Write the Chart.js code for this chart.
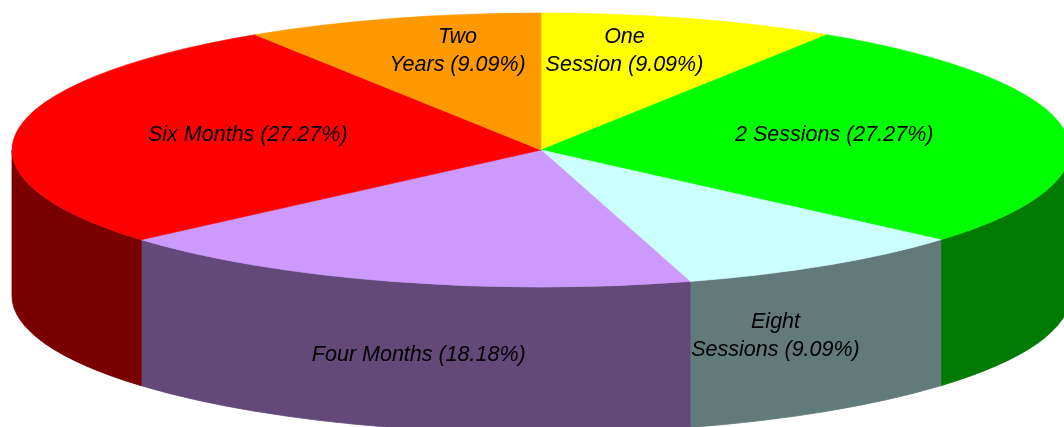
<!DOCTYPE html>
<html>
<head>
<meta charset="utf-8">
<script src="https://cdn.jsdelivr.net/npm/chart.js@4.4.1/dist/chart.umd.min.js"></script>
<style>
  html, body { margin: 0; padding: 0; background: #fff; }
</style>
</head>
<body>
<canvas id="pie3d" width="1064" height="427"></canvas>
<script>
const categories = ['One Session', '2 Sessions', 'Eight Sessions', 'Four Months', 'Six Months', 'Two Years'];
const counts = [1, 3, 1, 2, 3, 1];
const sliceColors = ['#ffff00', '#00ff00', '#ccffff', '#cc99ff', '#ff0000', '#ff9900'];

// look of the fake 3d pie
const RX = 529;      // horizontal radius (px)
const RY = 137;      // vertical radius of the top ellipse
const DEPTH = 146;   // height of the side wall
const total = counts.reduce((a, b) => a + b, 0);

function darker(hex, f) {
  const n = parseInt(hex.slice(1), 16);
  const r = Math.round(((n >> 16) & 255) * f);
  const g = Math.round(((n >> 8) & 255) * f);
  const b = Math.round((n & 255) * f);
  return `rgb(${r},${g},${b})`;
}

const pie3d = {
  id: 'pie3d',
  beforeDatasetDraw(chart, args) {
    const ctx = chart.ctx;
    const arcs = args.meta.data;
    const cx = arcs[0].x, cy = arcs[0].y, R = arcs[0].outerRadius;
    const k = RY / R;

    // side wall: only the front half (canvas angles 0..PI) is visible
    arcs.forEach((arc, i) => {
      const col = darker(sliceColors[i], 0.48);
      [-2 * Math.PI, 0, 2 * Math.PI].forEach(off => {
        const a = Math.max(arc.startAngle + off, 0);
        const b = Math.min(arc.endAngle + off, Math.PI);
        if (b <= a) return;
        ctx.beginPath();
        ctx.ellipse(cx, cy, R, R * k, 0, a, b, false);
        ctx.ellipse(cx, cy + DEPTH, R, R * k, 0, b, a, true);
        ctx.closePath();
        ctx.fillStyle = col;
        ctx.fill();
        ctx.strokeStyle = col;
        ctx.lineWidth = 0.8;
        ctx.stroke();
      });
    });

    // squash the library's circle into the top ellipse
    ctx.save();
    ctx.translate(cx, cy);
    ctx.scale(1, k);
    ctx.translate(-cx, -cy);
  },
  afterDatasetDraw(chart, args) {
    const ctx = chart.ctx;
    ctx.restore();

    const arcs = args.meta.data;
    const cx = arcs[0].x, cy = arcs[0].y, R = arcs[0].outerRadius;
    ctx.save();
    ctx.font = 'italic 21.5px "Liberation Sans", Arial, sans-serif';
    ctx.fillStyle = '#000';
    ctx.textAlign = 'center';
    ctx.textBaseline = 'middle';
    arcs.forEach((arc, i) => {
      const mid = (arc.startAngle + arc.endAngle) / 2;
      const c = Math.cos(mid), s = Math.sin(mid);
      let x, y;
      if (s > 0.5) {
        // front slices: label sits on the side wall
        x = cx + 0.82 * R * c;
        y = cy + 1.23 * RY * s + 0.3 * DEPTH;
      } else {
        x = cx + 0.56 * R * c;
        y = cy + 0.75 * RY * s;
      }
      const frac = counts[i] / total;
      const text = categories[i] + ' (' + (frac * 100).toFixed(2) + '%)';
      let lines = [text];
      if (frac < 0.1) {
        const sp = text.indexOf(' ');
        lines = [text.slice(0, sp), text.slice(sp + 1)];
      }
      lines.forEach((ln, j) => {
        ctx.fillText(ln, x, y + (j - (lines.length - 1) / 2) * 28);
      });
    });
    ctx.restore();
  }
};

new Chart(document.getElementById('pie3d'), {
  type: 'pie',
  data: {
    labels: categories,
    datasets: [{
      data: counts,
      backgroundColor: sliceColors,
      borderColor: sliceColors,
      borderWidth: 1,
      clip: false
    }]
  },
  options: {
    responsive: false,
    animation: false,
    events: [],
    radius: RX,
    layout: { padding: { left: 18, right: 0, top: 0, bottom: 127 } },
    plugins: {
      legend: { display: false },
      tooltip: { enabled: false }
    }
  },
  plugins: [pie3d]
});
</script>
</body>
</html>
